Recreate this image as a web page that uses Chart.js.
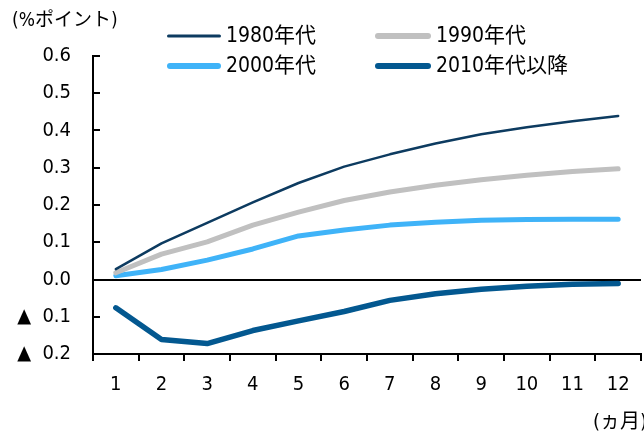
<!DOCTYPE html>
<html>
<head>
<meta charset="utf-8">
<script src="https://cdn.jsdelivr.net/npm/chart.js@4.4.1/dist/chart.umd.min.js"></script>
<style>
  html, body { margin: 0; padding: 0; background: #fff; }
  #wrap { width: 644px; height: 434px; }
</style>
</head>
<body>
<div id="wrap"><canvas id="c" width="644" height="434"></canvas></div>
<script>
// Months after the shock
const months = ['1', '2', '3', '4', '5', '6', '7', '8', '9', '10', '11', '12'];

// Cumulative response by decade (% points)
const s1980s = [0.028, 0.097, 0.152, 0.207, 0.259, 0.303, 0.336, 0.365, 0.390, 0.409, 0.425, 0.439];
const s1990s = [0.018, 0.068, 0.101, 0.146, 0.181, 0.212, 0.235, 0.253, 0.268, 0.280, 0.290, 0.297];
const s2000s = [0.010, 0.027, 0.052, 0.082, 0.117, 0.133, 0.146, 0.154, 0.159, 0.161, 0.162, 0.162];
const s2010s = [-0.076, -0.161, -0.172, -0.137, -0.111, -0.086, -0.056, -0.038, -0.026, -0.018, -0.013, -0.011];

const seriesLabels = ['1980年代', '1990年代', '2000年代', '2010年代以降'];
const yUnit = '(%ポイント)';
const xUnit = '(ヵ月)';

const FONT = '"DejaVu Sans Condensed", "Noto Sans CJK JP", sans-serif';

// Inward y ticks, unit captions and a two-column legend
const decorations = {
  id: 'decorations',
  afterDraw(chart) {
    const ctx = chart.ctx;
    const y = chart.scales.y;
    const area = chart.chartArea;
    ctx.save();

    ctx.strokeStyle = '#000';
    ctx.lineWidth = 2;
    y.ticks.forEach(t => {
      const py = Math.round(y.getPixelForValue(t.value));
      ctx.beginPath();
      ctx.moveTo(area.left, py);
      ctx.lineTo(area.left + 7, py);
      ctx.stroke();
    });

    ctx.fillStyle = '#000';
    ctx.font = '19px ' + FONT;
    ctx.textBaseline = 'middle';
    ctx.textAlign = 'left';
    ctx.fillText(yUnit, 12, 21);
    ctx.font = '20px ' + FONT;
    ctx.fillText(xUnit, 593, 423);

    // legend: two items per row
    const cols = [{ x0: 167, x1: 221, tx: 226 }, { x0: 375, x1: 431, tx: 436 }];
    const rows = [36, 66];
    ctx.font = '21px ' + FONT;
    chart.data.datasets.forEach((ds, i) => {
      const c = cols[i % 2];
      const ry = rows[Math.floor(i / 2)];
      ctx.strokeStyle = ds.borderColor;
      ctx.lineWidth = ds.legendWidth;
      ctx.lineCap = 'round';
      ctx.beginPath();
      ctx.moveTo(c.x0 + ds.legendWidth / 2, ry);
      ctx.lineTo(c.x1 - ds.legendWidth / 2, ry);
      ctx.stroke();
      ctx.fillStyle = '#000';
      ctx.fillText(ds.label, c.tx, ry + 1);
    });
    ctx.restore();
  }
};

const mk = (label, data, color, width, legendWidth) => ({
  label, data,
  borderColor: color,
  backgroundColor: color,
  borderWidth: width,
  legendWidth,
  pointRadius: 0,
  tension: 0,
  borderCapStyle: 'round',
  borderJoinStyle: 'round',
  fill: false
});

new Chart(document.getElementById('c'), {
  type: 'line',
  data: {
    labels: months,
    datasets: [
      mk(seriesLabels[0], s1980s, '#0d3b60', 2.5, 3),
      mk(seriesLabels[1], s1990s, '#c0c0c0', 5, 6),
      mk(seriesLabels[2], s2000s, '#3fb3f8', 5, 6),
      mk(seriesLabels[3], s2010s, '#035890', 5.5, 6)
    ]
  },
  options: {
    responsive: false,
    animation: false,
    devicePixelRatio: 1,
    layout: { padding: { top: 56, right: 3, left: 0, bottom: 0 } },
    plugins: {
      legend: { display: false },
      tooltip: { enabled: false },
      title: { display: false }
    },
    scales: {
      x: {
        type: 'category',
        offset: true,
        grid: {
          offset: true,
          drawOnChartArea: false,
          drawTicks: true,
          tickLength: 7,
          color: '#000',
          lineWidth: 2
        },
        border: { display: true, color: '#000', width: 2 },
        ticks: {
          color: '#000',
          font: { family: FONT, size: 20 },
          padding: 12,
          maxRotation: 0,
          autoSkip: false
        },
        afterFit(s) { s.height = 80; }
      },
      y: {
        min: -0.2,
        max: 0.6,
        ticks: {
          stepSize: 0.1,
          color: '#000',
          font: { family: FONT, size: 20 },
          padding: 22,
          callback(v) {
            const r = Math.round(v * 10) / 10;
            return r < 0 ? '▲\u00a0\u00a0' + Math.abs(r).toFixed(1) : r.toFixed(1);
          }
        },
        grid: {
          drawTicks: false,
          lineWidth: 2,
          color: c => (c.tick && Math.abs(c.tick.value) < 1e-9 ? '#000' : 'rgba(0,0,0,0)')
        },
        border: { display: true, color: '#000', width: 2 },
        afterFit(s) { s.width = 93; }
      }
    }
  },
  plugins: [decorations]
});
</script>
</body>
</html>
